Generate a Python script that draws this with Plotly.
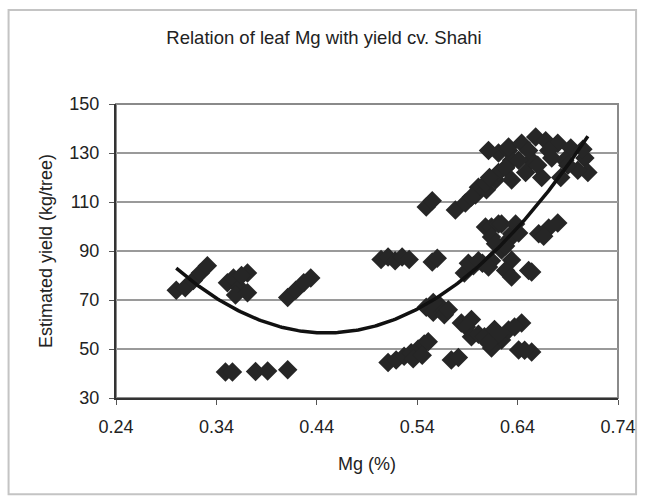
import plotly.graph_objects as go
import numpy as np

# Leaf Mg (%) and estimated yield (kg/tree), cv. Shahi
mg = [
    0.300, 0.309, 0.317, 0.324, 0.331,
    0.351, 0.357, 0.363, 0.359, 0.371, 0.371, 0.365,
    0.411, 0.419, 0.427, 0.434,
    0.349, 0.356, 0.379, 0.391, 0.411,
    0.504, 0.511, 0.518, 0.525, 0.532, 0.555, 0.560,
    0.549, 0.555,
    0.511, 0.519, 0.527, 0.534, 0.541, 0.547, 0.551, 0.536, 0.545,
    0.549, 0.556, 0.562, 0.567, 0.571, 0.556,
    0.574, 0.581,
    0.584, 0.594, 0.589,
    0.594, 0.601, 0.607, 0.617, 0.624, 0.614, 0.631, 0.621, 0.611, 0.644, 0.637, 0.641, 0.654, 0.647,
    0.578, 0.588, 0.598, 0.601, 0.609, 0.618, 0.621, 0.628, 0.621, 0.631, 0.634, 0.594, 0.608, 0.612, 0.611,
    0.608, 0.614, 0.621, 0.624, 0.634, 0.638, 0.614, 0.631, 0.641, 0.624, 0.634, 0.628, 0.651, 0.628, 0.618,
    0.661, 0.671, 0.680, 0.666,
    0.587, 0.596, 0.605, 0.614, 0.591, 0.601, 0.611, 0.634, 0.654,
    0.631, 0.644, 0.658, 0.668, 0.680, 0.693, 0.707, 0.710, 0.700, 0.687, 0.674, 0.654, 0.641,
    0.628, 0.664, 0.648, 0.634, 0.683, 0.651, 0.671, 0.660, 0.690, 0.705,
]
yield_kg = [
    74, 75, 78, 81, 84,
    77, 79, 75, 72, 73, 81, 80,
    71, 74, 77, 79,
    40.6, 40.6, 40.8, 41, 41.5,
    86.5, 87.5, 86, 87.5, 86.5, 85.5, 87,
    108, 110.5,
    44.5, 45.5, 47, 48.5, 50, 52, 53, 46, 47.5,
    67, 65, 68, 64, 66, 69,
    45.5, 46.5,
    60.6, 62, 59,
    55, 56, 55, 58, 53.7, 50.4, 57.8, 56, 52.5, 60.6, 59, 49.6, 48.8, 49.5,
    106.7, 109.6, 112.9, 116, 115, 119, 122, 124, 130, 131, 127, 112, 117.7, 120, 131,
    99.8, 99.8, 101, 101, 97, 101, 95.7, 94.5, 97.3, 90.4, 86.3, 82, 82, 92, 93,
    97, 99.4, 101.4, 96,
    81, 84, 85, 86, 85, 86, 83.5, 79.4, 81.4,
    132.4, 134, 136.5, 135, 134, 132, 128, 122, 123, 127, 128, 127, 127,
    124, 120, 122, 119, 120, 131, 131, 125, 125, 131.5,
]

# Polynomial (order 2) trendline coefficients
trend_coef = [1182.8, -1063.2, 295.5]
x_ticks = [0.24, 0.34, 0.44, 0.54, 0.64, 0.74]
y_ticks = [30, 50, 70, 90, 110, 130, 150]

xs = np.linspace(min(mg), max(mg), 200)
ys = np.polyval(trend_coef, xs)

fig = go.Figure()
fig.add_trace(go.Scatter(
    x=mg, y=yield_kg, mode="markers",
    marker=dict(symbol="diamond", size=15, color="#262626",
                line=dict(width=0)),
    showlegend=False,
))
fig.add_trace(go.Scatter(
    x=xs, y=ys, mode="lines",
    line=dict(color="#111111", width=3.5),
    showlegend=False,
))

font_family = "Liberation Sans, Arial, sans-serif"
fig.update_layout(
    width=648, height=502,
    margin=dict(l=116, r=28, t=104, b=104),
    paper_bgcolor="white", plot_bgcolor="white",
    font=dict(family=font_family, size=18, color="#222222"),
    title=dict(text="Relation of leaf Mg with yield cv. Shahi",
               x=0.5, xanchor="center", y=0.925, yanchor="middle",
               font=dict(size=18.5, color="#222222")),
    xaxis=dict(range=[0.24, 0.74], tickvals=x_ticks,
               ticktext=[f"{v:.2f}" for v in x_ticks],
               showgrid=False, zeroline=False,
               showline=True, linecolor="#333333", linewidth=2,
               ticks="outside", ticklen=5, tickcolor="#555555",
               ticklabelstandoff=6,
               title=dict(text="Mg (%)", font=dict(size=18), standoff=22)),
    yaxis=dict(range=[30, 150], tickvals=y_ticks,
               showgrid=True, gridcolor="#9a9a9a", gridwidth=1.5,
               zeroline=False,
               showline=True, linecolor="#333333", linewidth=2,
               ticks="outside", ticklen=5, tickcolor="#555555",
               ticklabelstandoff=6,
               title=dict(text="Estimated yield (kg/tree)",
                          font=dict(size=18), standoff=12)),
    shapes=[
        # plot area outline
        dict(type="rect", xref="paper", yref="paper", x0=0, y0=0, x1=1, y1=1,
             line=dict(color="#8a8a8a", width=2), layer="below"),
        # chart frame
        dict(type="rect", xref="paper", yref="paper",
             x0=-0.214, y0=-0.327, x1=1.036, y1=1.32,
             line=dict(color="#c4c4c4", width=2), layer="below"),
    ],
)

fig.write_html("out.html")
